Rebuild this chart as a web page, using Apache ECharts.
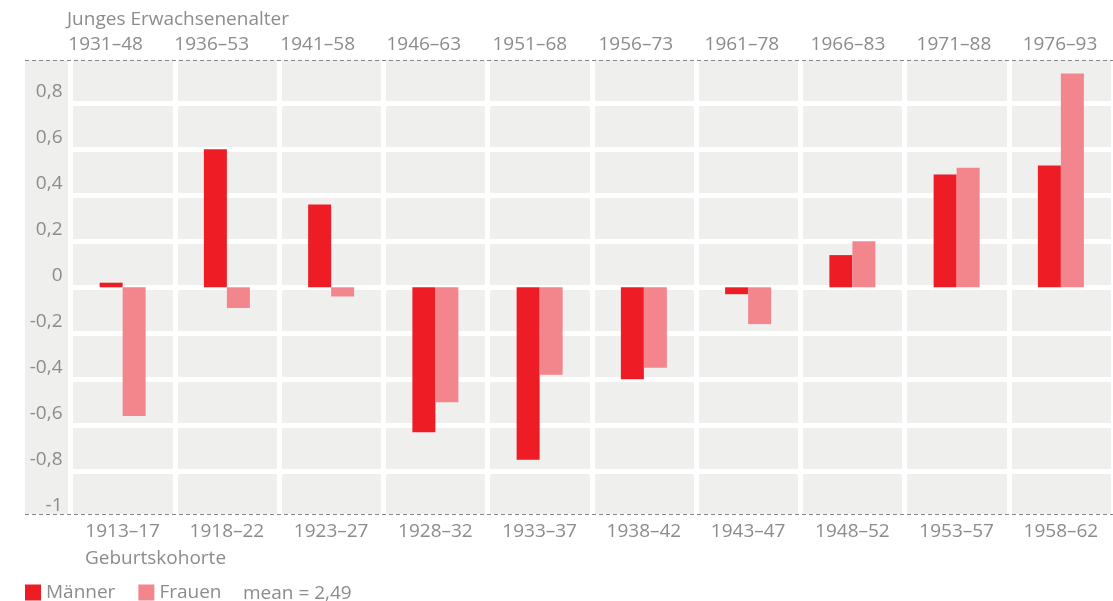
<!DOCTYPE html>
<html>
<head>
<meta charset="utf-8">
<script src="https://cdn.jsdelivr.net/npm/echarts@6/dist/echarts.min.js"></script>
<style>
html,body{margin:0;padding:0;background:#fff;}
#chart{width:1113px;height:601px;}
</style>
</head>
<body>
<div id="chart"></div>
<script>
const cohorts = ['1913–17','1918–22','1923–27','1928–32','1933–37','1938–42','1943–47','1948–52','1953–57','1958–62'];
const youngAdult = ['1931–48','1936–53','1941–58','1946–63','1951–68','1956–73','1961–78','1966–83','1971–88','1976–93'];
const maenner = [0.02, 0.60, 0.36, -0.63, -0.75, -0.40, -0.03, 0.14, 0.49, 0.53];
const frauen  = [-0.56, -0.09, -0.04, -0.50, -0.38, -0.35, -0.16, 0.20, 0.52, 0.93];
const yTicks = { min: -1, max: 1, interval: 0.2 };

const FONT = 'Open Sans';
const FS = 19;
const TXT = '#8c8c8c';
const RED = '#ee1d25';
const PINK = '#f3868c';
const BG = '#efefed';

const chart = echarts.init(document.getElementById('chart'), null, { renderer: 'canvas' });
chart.setOption({
  animation: false,
  textStyle: { fontFamily: FONT },
  grid: [
    { left: 70.5, width: 1045, top: 57.3, height: 460 },
    { left: 52.6, width: 1062, top: 60, height: 1 }
  ],
  xAxis: [
    {
      type: 'category', gridIndex: 0, data: cohorts, position: 'bottom',
      axisLine: { show: false }, axisTick: { show: false },
      axisLabel: { color: TXT, fontSize: FS, fontFamily: FONT, margin: 5 },
      splitLine: { show: true, lineStyle: { color: '#ffffff', width: 5 } }
    },
    {
      type: 'category', gridIndex: 1, data: youngAdult, position: 'top',
      axisLine: { show: false }, axisTick: { show: false },
      axisLabel: { color: TXT, fontSize: FS, fontFamily: FONT, margin: 6 },
      splitLine: { show: false }
    }
  ],
  yAxis: [
    {
      type: 'value', gridIndex: 0, min: yTicks.min, max: yTicks.max, interval: yTicks.interval,
      axisLine: { show: false }, axisTick: { show: false },
      axisLabel: {
        color: TXT, fontSize: FS, fontFamily: FONT, margin: 8,
        verticalAlign: 'bottom', lineHeight: 19, padding: [0, 0, 2, 0],
        formatter: function (v) {
          if (Math.abs(v - 1) < 1e-6) return '';
          return String(+v.toFixed(1)).replace('.', ',');
        }
      },
      splitLine: { show: true, lineStyle: { color: '#ffffff', width: 5 } }
    },
    { type: 'value', gridIndex: 1, show: false }
  ],
  legend: {
    left: 25, top: 583, padding: 0, icon: 'rect', itemWidth: 16, itemHeight: 16, itemGap: 23,
    textStyle: { color: TXT, fontSize: FS, fontFamily: FONT },
    data: ['Männer', 'Frauen']
  },
  graphic: [
    { type: 'rect', z: -10, silent: true, shape: { x: 25, y: 60, width: 1088, height: 454 }, style: { fill: BG } },
    { type: 'line', z: 100, silent: true, shape: { x1: 25, y1: 60.5, x2: 1113, y2: 60.5 }, style: { stroke: '#888', lineWidth: 1, lineDash: [4, 3] } },
    { type: 'line', z: 100, silent: true, shape: { x1: 25, y1: 514.5, x2: 1113, y2: 514.5 }, style: { stroke: '#888', lineWidth: 1, lineDash: [4, 3] } },
    { type: 'text', left: 67, top: 10, style: { text: 'Junges Erwachsenenalter', fill: TXT, font: FS + 'px "Open Sans"' } },
    { type: 'text', left: 85, top: 549, style: { text: 'Geburtskohorte', fill: TXT, font: FS + 'px "Open Sans"' } },
    { type: 'text', left: 243, top: 584, style: { text: 'mean = 2,49', fill: TXT, font: FS + 'px "Open Sans"' } }
  ],
  series: [
    { name: 'Männer', type: 'bar', xAxisIndex: 0, yAxisIndex: 0, data: maenner, barWidth: 23, barGap: '0%', itemStyle: { color: RED } },
    { name: 'Frauen', type: 'bar', xAxisIndex: 0, yAxisIndex: 0, data: frauen, barWidth: 23, barGap: '0%', itemStyle: { color: PINK } }
  ]
});
</script>
</body>
</html>
